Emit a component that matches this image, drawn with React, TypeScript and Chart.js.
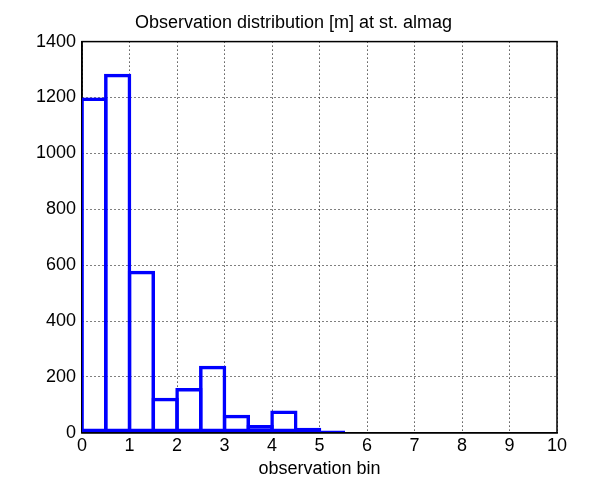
import React, { useEffect, useRef } from "react";
import { Chart, registerables } from "chart.js";
Chart.register(...registerables);

const binCenters = [0.25, 0.75, 1.25, 1.75, 2.25, 2.75, 3.25, 3.75, 4.25, 4.75, 5.25];
const counts = [1200, 1285, 580, 125, 160, 240, 65, 28, 80, 18, 8];
const title = "Observation distribution [m] at st. almag";
const xLabel = "observation bin";

export default function App() {
  const ref = useRef<HTMLCanvasElement>(null);
  useEffect(() => {
    const font = { family: "Liberation Sans, Arial, sans-serif", size: 18, weight: "normal" };
    const chart = new Chart(ref.current!, {
      type: "bar",
      data: {
        datasets: [{
          data: binCenters.map((x, i) => ({ x, y: counts[i] })),
          backgroundColor: "rgba(0,0,0,0)",
          borderColor: "#0000ff",
          borderWidth: 3.5,
          borderSkipped: false,
          barPercentage: 1.147,
          categoryPercentage: 1,
        }],
      },
      options: {
        animation: false,
        responsive: false,
        layout: { padding: { left: 22, right: 29, top: 2, bottom: 8 } },
        plugins: {
          legend: { display: false },
          tooltip: { enabled: false },
          title: { display: true, text: title, color: "#000", font, padding: { top: 2, bottom: 8 } },
        },
        scales: {
          x: {
            type: "linear", min: 0, max: 10, offset: false,
            ticks: { stepSize: 1, color: "#000", font, maxRotation: 0, padding: 2 },
            grid: { color: "#000", lineWidth: 1, drawTicks: false, offset: false },
            border: { display: true, color: "#000", width: 1.5, dash: [1, 3] } as any,
            title: { display: true, text: xLabel, color: "#000", font, padding: 0 },
          },
          y: {
            min: 0, max: 1400,
            ticks: { stepSize: 200, color: "#000", font, padding: 6, callback: (v: any) => String(v) },
            grid: { color: "#000", lineWidth: 1, drawTicks: false },
            border: { display: true, color: "#000", width: 1.5, dash: [1, 3] } as any,
          },
        },
      },
      plugins: [{
        id: "frame",
        beforeDatasetsDraw(c: any) {
          const { ctx, chartArea: a } = c;
          ctx.save();
          ctx.strokeStyle = "#000"; ctx.lineWidth = 1.5;
          ctx.strokeRect(a.left, a.top, a.right - a.left, a.bottom - a.top);
          ctx.restore();
        },
      }],
    } as any);
    return () => chart.destroy();
  }, []);
  return <canvas ref={ref} width={578} height={480} />;
}
